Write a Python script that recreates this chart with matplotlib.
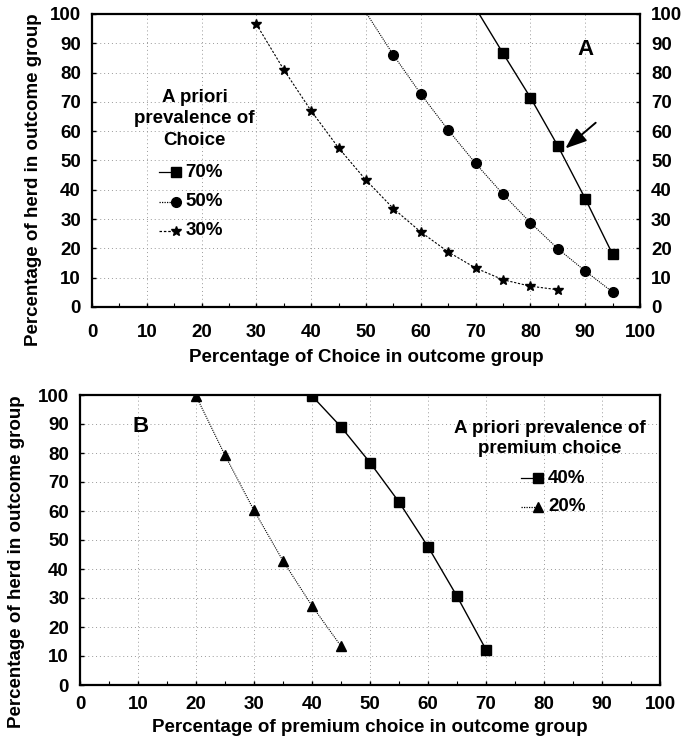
import matplotlib
matplotlib.use("Agg")
import matplotlib.pyplot as plt
from matplotlib.ticker import MultipleLocator

plt.rcParams['font.family'] = ['Liberation Sans', 'DejaVu Sans']
plt.rcParams['font.weight'] = 'bold'

# Panel A data
xa70 = [70, 75, 80, 85, 90, 95]
ya70 = [102, 86.6, 71.5, 55, 37, 18]
xa50 = [50, 55, 60, 65, 70, 75, 80, 85, 90, 95]
ya50 = [100.5, 86, 72.7, 60.4, 49, 38.5, 28.8, 19.9, 12.3, 5.1]
xa30 = [30, 35, 40, 45, 50, 55, 60, 65, 70, 75, 80, 85]
ya30 = [96.5, 81, 66.9, 54.3, 43.3, 33.6, 25.6, 18.8, 13.3, 9.3, 7.1, 5.9]
labels_a = ['70%', '50%', '30%']

# Panel B data
xb40 = [40, 45, 50, 55, 60, 65, 70]
yb40 = [99.7, 89, 76.7, 63.1, 47.7, 30.6, 12.2]
xb20 = [20, 25, 30, 35, 40, 45]
yb20 = [99.7, 79.2, 60.2, 42.8, 27.3, 13.4]
labels_b = ['40%', '20%']

ticks = list(range(0, 101, 10))
fs = 13.5

fig = plt.figure(figsize=(6.81, 7.46), dpi=100)
W, H = 681, 746

def style(ax, xpad, right_labels=False):
    ax.set_xlim(0, 100)
    ax.set_ylim(0, 100)
    ax.set_xticks(ticks)
    ax.set_yticks(ticks)
    ax.xaxis.set_minor_locator(MultipleLocator(5))
    ax.grid(True, which='major', color='#999999', linestyle=(0, (1, 3)), linewidth=0.7)
    for s in ax.spines.values():
        s.set_linewidth(1.6)
    ax.tick_params(labelsize=fs, length=3, width=1, direction='in',
                   right=right_labels, labelright=right_labels)
    ax.tick_params(axis='x', which='minor', length=3, width=0.8, direction='in')
    ax.tick_params(axis='x', which='major', pad=xpad)
    ax.tick_params(axis='y', pad=8)
    for lab in ax.get_xticklabels() + ax.get_yticklabels():
        lab.set_fontweight('bold')

# Top panel
axA = fig.add_axes([92 / W, 1 - 307 / H, (640 - 92) / W, (307 - 14) / H])
style(axA, xpad=12, right_labels=True)
axA.plot(xa70, ya70, color='black', linewidth=1.0, marker='s', markersize=7.5,
         markevery=list(range(1, len(xa70))))
axA.plot(xa50, ya50, color='black', linewidth=0.8, linestyle=(0, (1, 1)), marker='o',
         markersize=7, markevery=list(range(1, len(xa50))))
axA.plot(xa30, ya30, color='black', linewidth=0.8, linestyle=(0, (2, 1.5)), marker='*',
         markersize=7)
axA.set_xlabel('Percentage of Choice in outcome group', fontsize=fs, fontweight='bold', labelpad=6)
axA.set_ylabel('Percentage of herd in outcome group', fontsize=fs, fontweight='bold')
axA.yaxis.set_label_coords(-0.092, 0.435)
axA.text(90, 88, 'A', fontsize=16, fontweight='bold', ha='center', va='center')
axA.annotate('', xy=(86, 53.5), xytext=(92.3, 63.5),
             arrowprops=dict(arrowstyle='-|>,head_length=1.3,head_width=0.5',
                             color='black', lw=1.4))
axA.text(18.7, 64.2, 'A priori\nprevalence of\nChoice', fontsize=fs, fontweight='bold',
         ha='center', va='center', linespacing=1.35)
leg_y = [46, 36, 26]
leg_styles = [dict(marker='s', linestyle='-', markersize=7.5),
              dict(marker='o', linestyle=(0, (1, 1)), markersize=7),
              dict(marker='*', linestyle=(0, (2, 1.5)), markersize=7)]
for yy, lab, st in zip(leg_y, labels_a, leg_styles):
    axA.plot([12.3, 15.3], [yy, yy], color='black', linewidth=0.9, **st, markevery=[1])
    axA.text(17, yy, lab, fontsize=fs, fontweight='bold', ha='left', va='center')

# Bottom panel
axB = fig.add_axes([80 / W, 1 - 685 / H, (660 - 80) / W, (685 - 395) / H])
style(axB, xpad=8)
axB.plot(xb40, yb40, color='black', linewidth=1.0, marker='s', markersize=7.5)
axB.plot(xb20, yb20, color='black', linewidth=0.8, linestyle=(0, (1, 1)), marker='^',
         markersize=6.5)
axB.set_xlabel('Percentage of premium choice in outcome group', fontsize=fs, fontweight='bold', labelpad=4)
axB.set_ylabel('Percentage of herd in outcome group', fontsize=fs, fontweight='bold')
axB.yaxis.set_label_coords(-0.095, 0.424)
axB.text(10.4, 89, 'B', fontsize=16, fontweight='bold', ha='center', va='center')
axB.text(81, 85, 'A priori prevalence of\npremium choice', fontsize=fs, fontweight='bold',
         ha='center', va='center', linespacing=1.3)
leg_yb = [71.3, 61.4]
leg_st_b = [dict(marker='s', linestyle='-', markersize=7.5),
            dict(marker='^', linestyle=(0, (1, 1)), markersize=6.5)]
for yy, lab, st in zip(leg_yb, labels_b, leg_st_b):
    axB.plot([76, 79], [yy, yy], color='black', linewidth=0.9, **st, markevery=[1])
    axB.text(80.7, yy, lab, fontsize=fs, fontweight='bold', ha='left', va='center')

fig.savefig('out.png', dpi=100)
